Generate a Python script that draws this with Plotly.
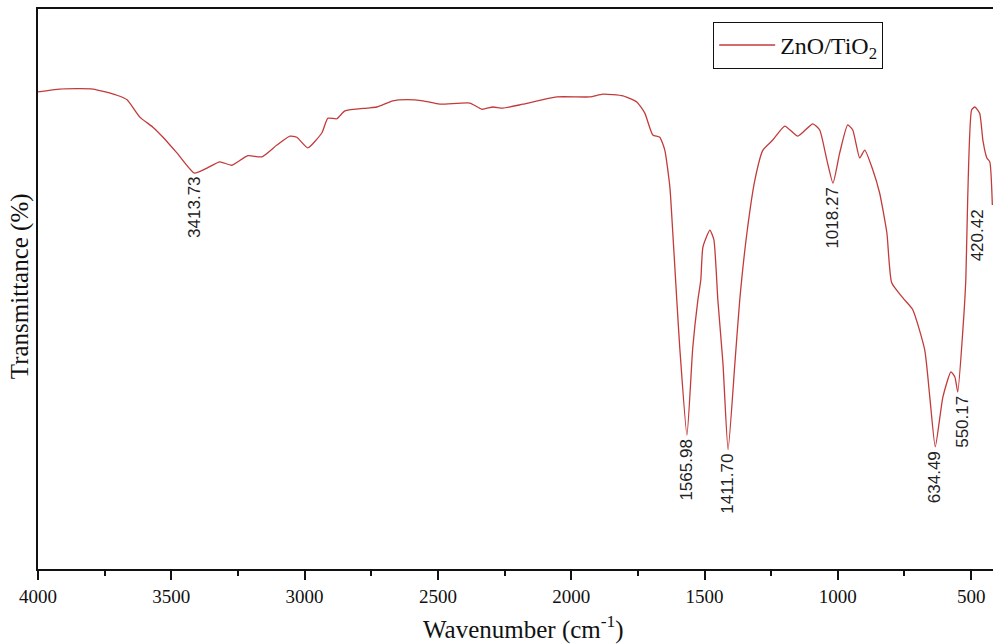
import plotly.graph_objects as go

# FTIR spectrum of ZnO/TiO2
wavenumber = [4000, 3918, 3794, 3704, 3666, 3618, 3569, 3531, 3479, 3413.73,
              3366, 3318, 3273, 3213, 3160, 3104, 3055, 3029, 2988, 2935,
              2913, 2879, 2849, 2766, 2729, 2669, 2616, 2556, 2493, 2380,
              2335, 2294, 2256, 2181, 2054, 1930, 1881, 1806, 1754, 1724,
              1694, 1668, 1649, 1630, 1619, 1604, 1593, 1565.98, 1544, 1525,
              1514, 1506, 1480, 1465, 1450, 1431, 1411.70, 1386, 1368, 1341,
              1311, 1281, 1244, 1199, 1150, 1094, 1068, 1041, 1018.27, 993,
              963, 944, 918, 899, 869, 843, 816, 798, 756, 719,
              674, 655, 634.49, 606, 576, 561, 550.17, 531, 520, 513,
              498, 486, 468, 456, 441, 430, 420.42]
transmittance = [85.2, 85.7, 85.7, 84.6, 83.8, 80.7, 78.9, 77.1, 74.3, 70.7,
                 71.6, 72.7, 72.1, 73.8, 73.6, 75.7, 77.3, 77.1, 75.2, 77.9,
                 80.5, 80.4, 81.8, 82.3, 82.5, 83.6, 83.8, 83.6, 83.0, 83.2,
                 82.1, 82.5, 82.3, 83.0, 84.3, 84.3, 84.8, 84.5, 83.4, 81.4,
                 77.5, 77.1, 74.8, 68.2, 60.0, 48.0, 39.6, 23.9, 39.6, 48.0,
                 51.6, 57.5, 60.5, 58.8, 48.0, 36.8, 21.3, 36.8, 48.0, 60.0,
                 69.5, 74.8, 76.6, 79.1, 77.3, 79.5, 78.4, 73.0, 68.9, 74.3,
                 79.3, 78.4, 73.4, 74.8, 71.3, 67.1, 60.0, 51.1, 48.4, 46.3,
                 39.1, 30.7, 21.8, 30.7, 35.2, 34.3, 31.6, 42.7, 51.6, 65.9,
                 82.0, 82.5, 81.4, 76.6, 73.4, 72.7, 65.0]

peak_labels = ["3413.73", "1565.98", "1411.70", "1018.27", "634.49", "550.17", "420.42"]
peak_positions = [3413.73, 1565.98, 1411.70, 1018.27, 634.49, 550.17, 420.42]

tick_values = [4000, 3500, 3000, 2500, 2000, 1500, 1000, 500]
tick_text = ["4000", "3500", "3000", "2500", "2000", "1500", "1000", "500"]

series_name = "ZnO/TiO<sub>2</sub>"
x_title = "Wavenumber (cm<sup>-1</sup>)"
y_title = "Transmittance (%)"

line_color = "#C23B3B"
serif = "Liberation Serif, Times New Roman, serif"
sans = "Liberation Sans, Arial, sans-serif"

fig = go.Figure()
fig.add_trace(go.Scatter(x=wavenumber, y=transmittance, mode="lines",
                         name=series_name,
                         line=dict(color=line_color, width=1.3,
                                   shape="spline", smoothing=0.5)))

# peak labels, rotated, hanging just below each minimum
lookup = dict(zip(wavenumber, transmittance))
label_xshift = {"420.42": -15, "550.17": 4}
for lab, pos in zip(peak_labels, peak_positions):
    fig.add_annotation(x=pos, y=lookup[pos], text=lab, textangle=-90,
                       showarrow=False, xanchor="center", yanchor="top",
                       xshift=label_xshift.get(lab, 0), yshift=-2,
                       font=dict(family=sans, size=17, color="#222"))

fig.add_annotation(x=0.508, y=-0.105, xref="paper", yref="paper", text=x_title,
                   showarrow=False, xanchor="center", yanchor="middle",
                   font=dict(family=serif, size=25, color="#111"))
fig.add_annotation(x=-0.0188, y=0.505, xref="paper", yref="paper", text=y_title,
                   showarrow=False, xanchor="center", yanchor="middle", textangle=-90,
                   font=dict(family=serif, size=25, color="#111"))

fig.update_layout(
    width=993, height=644,
    margin=dict(l=38, r=0, t=9, b=75),
    paper_bgcolor="white", plot_bgcolor="white",
    showlegend=True,
    legend=dict(x=0.707, y=0.977, xanchor="left", yanchor="top",
                bordercolor="#111", borderwidth=1, bgcolor="white",
                font=dict(family=serif, size=24, color="#111"),
                tracegroupgap=0, itemwidth=56),
)
fig.update_xaxes(range=[4000, 418], autorange=False,
                 tickmode="array", tickvals=tick_values, ticktext=tick_text,
                 ticks="outside", ticklen=9, tickwidth=2, tickcolor="#111",
                 minor=dict(dtick=250, tick0=0, ticks="outside", ticklen=5,
                            tickwidth=2, tickcolor="#111", showgrid=False),
                 showline=True, linewidth=2, linecolor="#111", mirror=True,
                 showgrid=False, zeroline=False,
                 tickfont=dict(family=serif, size=19, color="#111"))
fig.update_yaxes(range=[0, 100], showticklabels=False, ticks="",
                 showline=True, linewidth=2, linecolor="#111",
                 showgrid=False, zeroline=False)

fig.write_html("out.html")
